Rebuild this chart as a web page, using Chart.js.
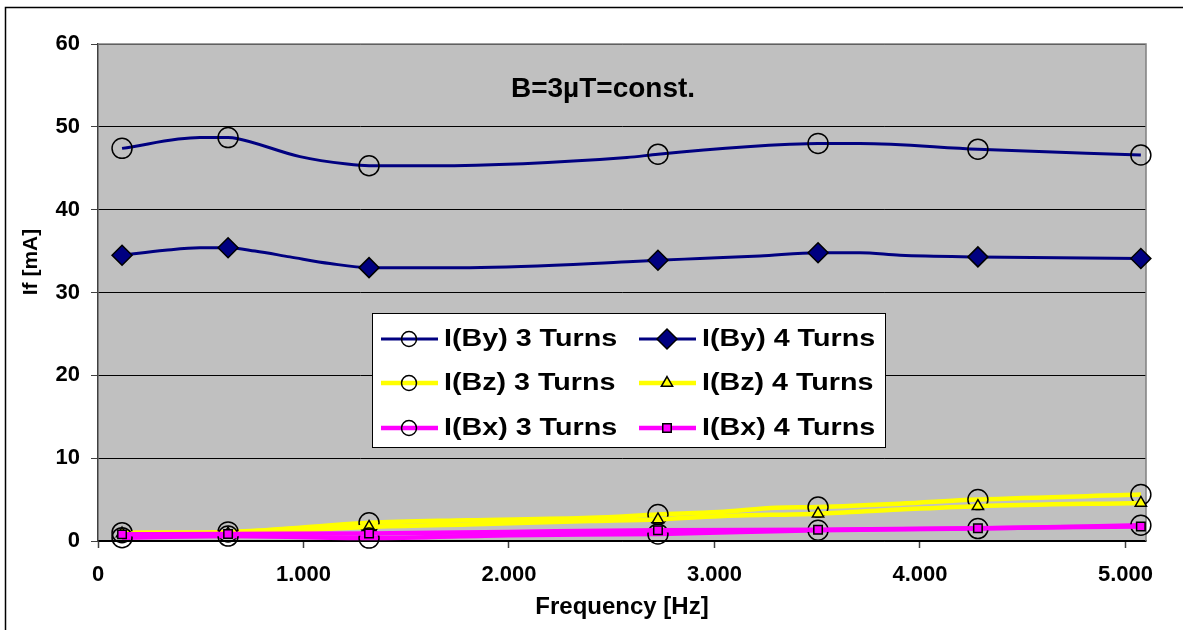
<!DOCTYPE html>
<html>
<head>
<meta charset="utf-8">
<title>If vs frequency</title>
<script src="https://cdn.jsdelivr.net/npm/chart.js@4.4.1/dist/chart.umd.min.js"></script>
<style>
  html, body { margin: 0; padding: 0; background: #fff; }
  canvas { display: block; }
</style>
</head>
<body>
<canvas id="ifChart" width="1183" height="630"></canvas>
<script>
// frequencies [Hz] where a marker is drawn
const markerFreq = [117, 633, 1319, 2725, 3504, 4282, 5075];

// I(By) 3 Turns
const by3Freq = [117, 496, 633, 676, 983, 1212, 1319, 1630, 2574, 2725, 3158, 3367, 3504, 3708, 4282, 5075];
const by3Vals = [47.4, 48.7, 48.7, 48.6, 46.4, 45.5, 45.3, 45.3, 46.3, 46.7, 47.6, 47.9, 48.0, 48.0, 47.3, 46.6];

// I(By) 4 Turns
const by4Freq = [117, 326, 496, 633, 764, 934, 1129, 1319, 1810, 2579, 2725, 2929, 3221, 3504, 3708, 3903, 4282, 5075];
const by4Vals = [34.5, 35.1, 35.4, 35.4, 35.0, 34.3, 33.5, 33.0, 33.0, 33.7, 33.9, 34.1, 34.4, 34.8, 34.8, 34.5, 34.3, 34.1];

// I(Bz) 3 Turns
const bz3Freq = [117, 633, 983, 1319, 1800, 2400, 2725, 3020, 3300, 3504, 3900, 4282, 5075];
const bz3Vals = [1.0, 1.1, 1.6, 2.2, 2.5, 2.8, 3.2, 3.5, 4.0, 4.1, 4.5, 5.0, 5.6];

// I(Bz) 4 Turns
const bz4Freq = [117, 633, 983, 1319, 1800, 2400, 2725, 3020, 3504, 3900, 4282, 5075];
const bz4Vals = [0.9, 0.9, 1.3, 1.7, 2.0, 2.4, 2.6, 3.0, 3.3, 3.8, 4.2, 4.6];

// I(Bx) 3 Turns
const bx3Freq = [117, 633, 1319, 2000, 2725, 3504, 4282, 5075];
const bx3Vals = [0.4, 0.6, 0.35, 0.7, 0.85, 1.3, 1.5, 1.9];

// I(Bx) 4 Turns
const bx4Freq = [117, 633, 1319, 2000, 2725, 3504, 4282, 5075];
const bx4Vals = [0.8, 0.85, 0.9, 1.1, 1.3, 1.35, 1.55, 1.75];

const xTickVals = [0, 1000, 2000, 3000, 4000, 5000];
const xTickLabels = ['0', '1.000', '2.000', '3.000', '4.000', '5.000'];
const seriesNames = ['I(By) 3 Turns', 'I(By) 4 Turns', 'I(Bz) 3 Turns', 'I(Bz) 4 Turns', 'I(Bx) 3 Turns', 'I(Bx) 4 Turns'];

const FONT = "'Liberation Sans', Arial, sans-serif";

const looks = [
  { line: '#000080', width: 3, mark: 'circle', fill: 'rgba(0,0,0,0)', r: 10, lr: 7.5 },
  { line: '#000080', width: 3, mark: 'rectRot', fill: '#000080', r: 10, lr: 10 },
  { line: '#FFFF00', width: 4.5, mark: 'circle', fill: 'rgba(0,0,0,0)', r: 10, lr: 7.5 },
  { line: '#FFFF00', width: 4.5, mark: 'triangle', fill: '#FFFF00', r: 6.5, lr: 6.5 },
  { line: '#FF00FF', width: 4.5, mark: 'circle', fill: 'rgba(0,0,0,0)', r: 10, lr: 7.5 },
  { line: '#FF00FF', width: 4.5, mark: 'rect', fill: '#FF00FF', r: 6, lr: 6 }
];

const allFreq = [by3Freq, by4Freq, bz3Freq, bz4Freq, bx3Freq, bx4Freq];
const allVals = [by3Vals, by4Vals, bz3Vals, bz4Vals, bx3Vals, bx4Vals];

const datasets = seriesNames.map(function (name, i) {
  const lk = looks[i];
  const f = allFreq[i];
  return {
    label: name,
    data: f.map(function (x, j) { return { x: x, y: allVals[i][j] }; }),
    borderColor: lk.line,
    borderWidth: lk.width,
    pointStyle: lk.mark,
    pointRadius: f.map(function (x) { return markerFreq.indexOf(x) >= 0 ? lk.r : 0; }),
    pointBackgroundColor: lk.fill,
    pointBorderColor: '#000',
    pointBorderWidth: 1.5,
    cubicInterpolationMode: 'monotone',
    clip: false,
    order: 5 - i
  };
});

// small marker painter for the legend box
function mark(ctx, style, x, y, r, fill) {
  ctx.beginPath();
  if (style === 'circle') {
    ctx.arc(x, y, r, 0, Math.PI * 2);
  } else if (style === 'rectRot') {
    ctx.moveTo(x - r, y); ctx.lineTo(x, y - r); ctx.lineTo(x + r, y); ctx.lineTo(x, y + r);
    ctx.closePath();
  } else if (style === 'triangle') {
    for (let k = 0; k < 3; k++) {
      const a = k * 2 * Math.PI / 3;
      const px = x + Math.sin(a) * r, py = y - Math.cos(a) * r;
      if (k === 0) ctx.moveTo(px, py); else ctx.lineTo(px, py);
    }
    ctx.closePath();
  } else {
    const s = r * Math.SQRT1_2;
    ctx.rect(x - s, y - s, 2 * s, 2 * s);
  }
  ctx.fillStyle = fill;
  ctx.fill();
  ctx.lineWidth = 1.5;
  ctx.strokeStyle = '#000';
  ctx.stroke();
}

const decor = {
  id: 'decor',
  beforeDraw(chart) {
    // grey plot background
    const a = chart.chartArea, ctx = chart.ctx;
    ctx.save();
    ctx.fillStyle = '#C0C0C0';
    ctx.fillRect(a.left, a.top, a.right - a.left, a.bottom - a.top);
    ctx.restore();
  },
  beforeDatasetsDraw(chart) {
    // top and right edge of the plot area
    const a = chart.chartArea, ctx = chart.ctx;
    ctx.save();
    ctx.strokeStyle = '#808080';
    ctx.lineWidth = 1.5;
    ctx.beginPath();
    ctx.moveTo(a.left, a.top); ctx.lineTo(a.right, a.top); ctx.lineTo(a.right, a.bottom);
    ctx.stroke();
    ctx.restore();
  },
  afterDraw(chart) {
    const ctx = chart.ctx;
    ctx.save();

    // outer frame
    ctx.strokeStyle = '#000';
    ctx.lineWidth = 1.5;
    ctx.strokeRect(5.5, 7.5, 1300, 800);

    // axis title on the left
    ctx.save();
    ctx.translate(31, 262);
    ctx.rotate(-Math.PI / 2);
    ctx.font = 'bold 21px ' + FONT;
    ctx.fillStyle = '#000';
    ctx.textAlign = 'center';
    ctx.textBaseline = 'middle';
    ctx.fillText('If [mA]', 0, 0);
    ctx.restore();

    // note inside the plot
    ctx.font = 'bold 28px ' + FONT;
    ctx.fillStyle = '#000';
    ctx.textAlign = 'center';
    ctx.textBaseline = 'alphabetic';
    ctx.fillText('B=3\u00b5T=const.', 603, 97);

    // legend box
    const bx = 372, by = 313, bw = 513, bh = 134;
    ctx.fillStyle = '#fff';
    ctx.fillRect(bx, by, bw, bh);
    ctx.strokeStyle = '#000';
    ctx.lineWidth = 1;
    ctx.strokeRect(bx + 0.5, by + 0.5, bw, bh);

    const cols = [381, 639];
    const rows = [339, 383, 428];
    seriesNames.forEach(function (name, i) {
      const lk = looks[i];
      const x0 = cols[i % 2], y0 = rows[Math.floor(i / 2)];
      ctx.strokeStyle = lk.line;
      ctx.lineWidth = lk.width;
      ctx.beginPath();
      ctx.moveTo(x0, y0); ctx.lineTo(x0 + 57, y0);
      ctx.stroke();
      mark(ctx, lk.mark, x0 + 28, y0, lk.lr, lk.fill);

      ctx.save();
      ctx.translate(x0 + 63, y0 + 1);
      ctx.scale(1.22, 1);
      ctx.font = 'bold 23.5px ' + FONT;
      ctx.fillStyle = '#000';
      ctx.textAlign = 'left';
      ctx.textBaseline = 'middle';
      ctx.fillText(name, 0, 0);
      ctx.restore();
    });

    ctx.restore();
  }
};

const ctx = document.getElementById('ifChart').getContext('2d');
const chart = new Chart(ctx, {
  type: 'line',
  data: { datasets: datasets },
  options: {
    responsive: false,
    animation: false,
    events: [],
    layout: { padding: { left: 0, top: 44, right: 37, bottom: 0 } },
    plugins: {
      legend: { display: false },
      tooltip: { enabled: false }
    },
    scales: {
      x: {
        type: 'linear',
        min: 0,
        max: 5100,
        afterFit: function (s) { s.height = 89; },
        afterBuildTicks: function (s) {
          s.ticks = xTickVals.map(function (v) { return { value: v }; });
        },
        ticks: {
          padding: 14,
          color: '#000',
          maxRotation: 0,
          autoSkip: false,
          font: { family: FONT, size: 22, weight: 'bold' },
          callback: function (v, i) { return xTickLabels[i]; }
        },
        grid: { drawOnChartArea: false, tickLength: 7, tickColor: '#404040', tickWidth: 1.5 },
        border: { color: '#000', width: 1.5 },
        title: {
          display: true,
          text: 'Frequency [Hz]',
          color: '#000',
          font: { family: FONT, size: 24, weight: 'bold' },
          padding: { top: 0, bottom: 8 }
        }
      },
      y: {
        min: 0,
        max: 60,
        afterFit: function (s) { s.width = 98; },
        ticks: {
          stepSize: 10,
          padding: 11,
          color: '#000',
          font: { family: FONT, size: 22, weight: 'bold' }
        },
        grid: { color: '#000', lineWidth: 1, tickLength: 7, tickColor: '#404040' },
        border: { color: '#404040', width: 1.5 }
      }
    }
  },
  plugins: [decor]
});
</script>
</body>
</html>
